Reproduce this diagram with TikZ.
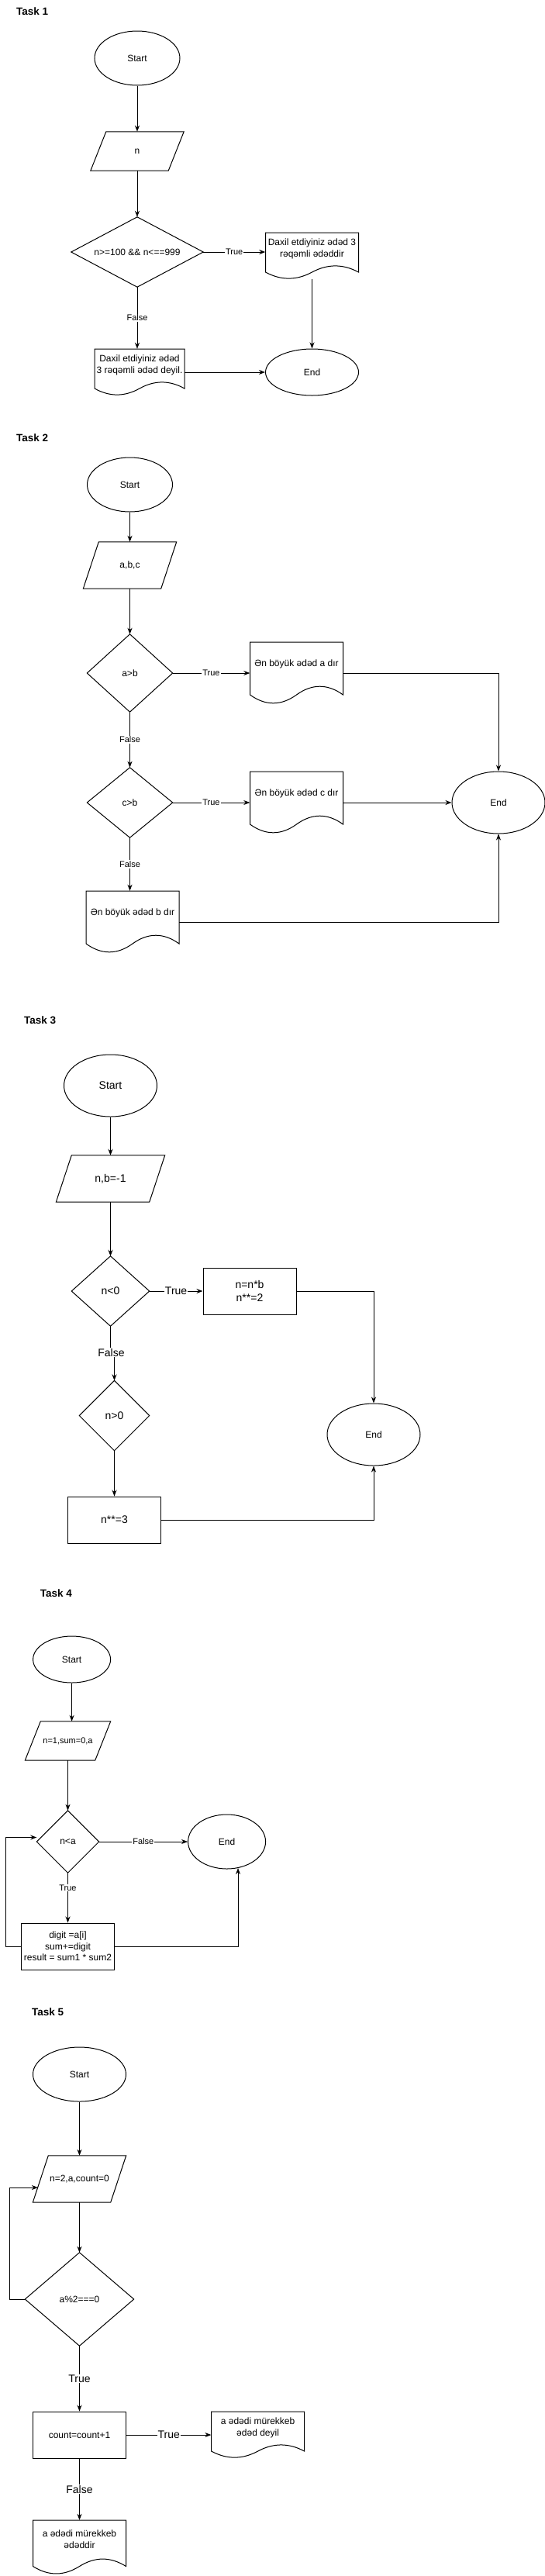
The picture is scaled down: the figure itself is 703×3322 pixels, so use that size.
\documentclass[tikz,border=0pt]{standalone}
\usepackage{fontspec}
\setmainfont{Liberation Sans}
\usetikzlibrary{shapes.geometric,calc,arrows.meta}
\tikzset{
  txt/.style={font=\fontsize{12}{14.4}\selectfont, align=center, inner sep=0pt},
  big/.style={font=\fontsize{14}{16.8}\selectfont},
  small/.style={font=\fontsize{11}{13.2}\selectfont},
  ln/.style={line width=1pt, line join=miter},
  shp/.style={rectangle, draw=none, inner sep=0pt, txt},
  elli/.style={ellipse, draw, line width=1pt, inner sep=0pt, txt},
  rectbox/.style={rectangle, draw, line width=1pt, inner sep=0pt, txt},
  lbl/.style={font=\fontsize{11}{13}\selectfont, fill=white, inner sep=1pt},
  lblbig/.style={font=\fontsize{14}{16}\selectfont, fill=white, inner sep=1pt},
  arr/.style={-{Stealth[length=8pt,width=6pt,inset=2.5pt]}, line width=1pt},
  ttl/.style={font=\fontsize{13.5}{16}\selectfont\bfseries, anchor=west, inner sep=0pt}
}
% #1 style, #2 name, #3 cx, #4 cy, #5 w, #6 h, #7 text
\newcommand\ParaShape[7]{%
  \node[shp, #1, minimum width=#5pt, minimum height=#6pt] (#2) at (#3,#4) {#7};
  \draw[ln] ($(#2.north west)+(20,0)$) -- (#2.north east) -- ($(#2.south east)+(-20,0)$) -- (#2.south west) -- cycle;
}
\newcommand\DiaShape[7]{%
  \node[shp, #1, minimum width=#5pt, minimum height=#6pt] (#2) at (#3,#4) {#7};
  \draw[ln] (#2.north) -- (#2.east) -- (#2.south) -- (#2.west) -- cycle;
}
\newcommand\DocShape[7]{%
  \node[shp, minimum width=#5pt, minimum height=#6pt] (#2) at (#3,#4) {};
  \node[shp, #1] (#2t) at (#3,{#4-#6/2+0.35*#6}) {#7};
  \draw[ln] ({#3-#5/2},{#4-#6/2}) -- ({#3+#5/2},{#4-#6/2}) -- ({#3+#5/2},{#4+#6/2-0.15*#6})
    .. controls ({#3+#5/2-#5/6},{#4+#6/2-0.33*#6}) and ({#3+#5/6},{#4+#6/2-0.33*#6}) .. ({#3},{#4+#6/2-0.15*#6})
    .. controls ({#3-#5/6},{#4+#6/2+0.03*#6}) and ({#3-#5/2+#5/6},{#4+#6/2+0.03*#6}) .. ({#3-#5/2},{#4+#6/2-0.15*#6}) -- cycle;
}
\begin{document}
\begin{tikzpicture}[x=1pt,y=-1pt]
\fill[white] (0,0) rectangle (703,3322);
\useasboundingbox (0,0) rectangle (703,3322);

% ---------------- Task 1 ----------------
\node[ttl] (T1) at (21,15) {Task 1};
\node[elli, minimum width=110pt, minimum height=70pt] (S1) at (177,75) {Start};
\ParaShape{}{P1}{177}{195}{120}{50}{n}
\DiaShape{}{D1}{177}{325}{170}{90}{n>=100 \&\& n<==999}
\DocShape{}{Doc1}{402.5}{330}{120}{60}{Daxil etdiyiniz ədəd 3\\rəqəmli ədəddir}
\node[elli, minimum width=120pt, minimum height=60pt] (E1) at (402.5,480) {End};
\DocShape{}{Doc2}{180}{480}{116}{60}{Daxil etdiyiniz ədəd\\3 rəqəmli ədəd deyil.}
\draw[arr] (S1.south) -- (P1.north);
\draw[arr] (P1.south) -- (D1.north);
\draw[arr] (D1.east) -- node[lbl] (L1t) {True} (D1.east -| Doc1.west);
\draw[arr] (D1.south) -- node[lbl] (L1f) {False} (D1.south |- Doc2.north);
\draw[arr] (Doc1.south) -- (E1.north);
\draw[arr] (Doc2.east) -- (E1.west);

% ---------------- Task 2 ----------------
\node[ttl] (T2) at (21,565) {Task 2};
\node[elli, minimum width=110pt, minimum height=70pt] (S2) at (167.5,625) {Start};
\ParaShape{}{P2}{167.5}{729}{120}{60}{a,b,c}
\DiaShape{}{D2a}{167.5}{868}{110}{100}{a>b}
\DocShape{}{Doca}{382.5}{868}{120}{80}{Ən böyük ədəd a dır}
\DiaShape{}{D2c}{167.5}{1035}{110}{90}{c>b}
\DocShape{}{Docc}{382.5}{1035}{120}{80}{Ən böyük ədəd c dır}
\node[elli, minimum width=120pt, minimum height=80pt] (E2) at (643,1035) {End};
\DocShape{}{Docb}{171}{1189}{120}{80}{Ən böyük ədəd b dır}
\draw[arr] (S2.south) -- (P2.north);
\draw[arr] (P2.south) -- (D2a.north);
\draw[arr] (D2a.east) -- node[lbl] (L2t1) {True} (Doca.west);
\draw[arr] (Doca.east) -| (E2.north);
\draw[arr] (D2a.south) -- node[lbl] (L2f1) {False} (D2c.north);
\draw[arr] (D2c.east) -- node[lbl] (L2t2) {True} (Docc.west);
\draw[arr] (Docc.east) -- (E2.west);
\draw[arr] (D2c.south) -- node[lbl] (L2f2) {False} (D2c.south |- Docb.north);
\draw[arr] (Docb.east) -| (E2.south);

% ---------------- Task 3 ----------------
\node[ttl] (T3) at (31,1315.5) {Task 3};
\node[elli, big, minimum width=120pt, minimum height=80pt] (S3) at (142.5,1400) {Start};
\ParaShape{big}{P3}{142.5}{1520}{140}{60}{n,b=-1}
\DiaShape{big}{D3a}{142.5}{1665}{100}{90}{n<0}
\node[rectbox, big, minimum width=120pt, minimum height=60pt] (R3a) at (322,1665) {n=n*b\\n**=2};
\node[elli, minimum width=120pt, minimum height=80pt] (E3) at (482,1850) {End};
\DiaShape{big}{D3b}{147.5}{1825.5}{90}{90}{n>0}
\node[rectbox, big, minimum width=120pt, minimum height=60pt] (R3b) at (147.5,1960) {n**=3};
\draw[arr] (S3.south) -- (P3.north);
\draw[arr] (P3.south) -- (D3a.north);
\draw[arr] (D3a.east) -- node[lblbig] (L3t) {True} (R3a.west);
\draw[arr] (R3a.east) -| (E3.north);
\draw[arr] (D3a.south) -- ++(0,34) -| (D3b.north);
\node[lblbig] (L3f) at (143.5,1744) {False};
\draw[arr] (D3b.south) -- (R3b.north);
\draw[arr] (R3b.east) -| (E3.south);

% ---------------- Task 4 ----------------
\node[ttl] (T4) at (51.6,2055) {Task 4};
\node[elli, minimum width=100pt, minimum height=60pt] (S4) at (92.6,2140) {Start};
\ParaShape{small}{P4}{87.5}{2245}{110}{50}{n=1,sum=0,a}
\DiaShape{}{D4}{87.5}{2375}{80}{80}{n<a}
\node[elli, minimum width=100pt, minimum height=70pt] (E4) at (292.6,2375) {End};
\node[rectbox, minimum width=120pt, minimum height=60pt] (R4) at (87.5,2510) {digit =a[i]\\sum+=digit\\result = sum1 * sum2};
\coordinate (D4in) at ($(D4.west)+(0,-5.5)$);
\draw[arr] (S4.south) -- (S4.south |- P4.north);
\draw[arr] (P4.south) -- (D4.north);
\draw[arr] (D4.east) -- node[lbl] (L4f) {False} (E4.west);
\draw[arr] (D4.south) -- node[lbl, pos=0.3] (L4t) {True} (R4.north);
\draw[arr] (R4.west) -- ++(-20,0) |- (D4in);
\draw[arr] (R4.east) -| (E4.-67.2);

% ---------------- Task 5 ----------------
\node[ttl] (T5) at (41,2594.6) {Task 5};
\node[elli, minimum width=120pt, minimum height=70pt] (S5) at (102.5,2675) {Start};
\ParaShape{}{P5}{102.5}{2810}{120}{60}{n=2,a,count=0}
\DiaShape{}{D5}{102.5}{2965}{140}{120}{a\%2===0}
\node[rectbox, minimum width=120pt, minimum height=60pt] (R5) at (102.5,3140) {count=count+1};
\DocShape{}{Doc5a}{332.6}{3140}{120}{60}{a ədədi mürekkeb\\ədəd deyil}
\DocShape{}{Doc5b}{102.5}{3285}{120}{70}{a ədədi mürekkeb\\ədəddir}
\coordinate (P5in) at (49,2821);
\draw[arr] (S5.south) -- (P5.north);
\draw[arr] (P5.south) -- (D5.north);
\draw[arr] (D5.west) -- ++(-20,0) |- (P5in);
\draw[arr] (D5.south) -- node[lblbig] (L5t1) {True} (R5.north);
\draw[arr] (R5.east) -- node[lblbig] (L5t2) {True} (Doc5a.west);
\draw[arr] (R5.south) -- node[lblbig] (L5f) {False} (Doc5b.north);
\end{tikzpicture}
\end{document}
